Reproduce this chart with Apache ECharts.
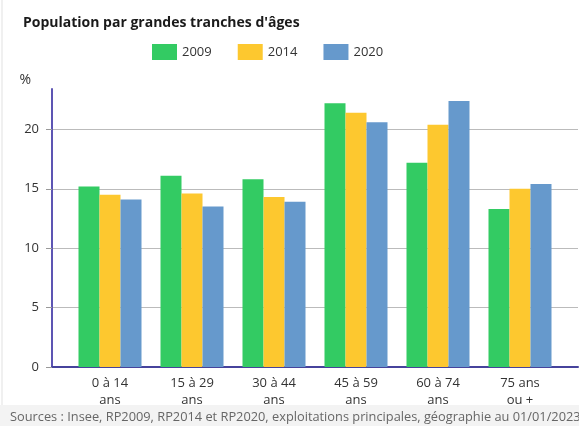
<!DOCTYPE html>
<html>
<head>
<meta charset="utf-8">
<script src="https://cdn.jsdelivr.net/npm/echarts@6/dist/echarts.min.js"></script>
<style>
  html, body { margin: 0; padding: 0; background: #fff; }
  #chart { width: 579px; height: 426px; }
</style>
</head>
<body>
<div id="chart"></div>
<script>
// tranches d'âges
const categories = ['0 à 14\nans', '15 à 29\nans', '30 à 44\nans', '45 à 59\nans', '60 à 74\nans', '75 ans\nou +'];
const years = ['2009', '2014', '2020'];
const values2009 = [15.2, 16.1, 15.8, 22.2, 17.2, 13.3];
const values2014 = [14.5, 14.6, 14.3, 21.4, 20.4, 15.0];
const values2020 = [14.1, 13.5, 13.9, 20.6, 22.4, 15.4];
const colors = ['#33cb63', '#fdc82f', '#6699cc'];

const font = '"Open Sans", "Noto Sans", sans-serif';
const yMax = 23.4;

const chart = echarts.init(document.getElementById('chart'), null, { renderer: 'canvas' });

const option = {
  animation: false,
  textStyle: { fontFamily: font },
  title: [
    {
      text: "Population par grandes tranches d'âges",
      left: 18, top: 11,
      textStyle: { fontSize: 14, fontWeight: 'bold', color: '#1a1a1a', fontFamily: font }
    },
    {
      text: 'Sources : Insee, RP2009, RP2014 et RP2020, exploitations principales, géographie au 01/01/2023.',
      left: 5, top: 406,
      textStyle: { fontSize: 12.8, fontWeight: 'normal', color: '#666', fontFamily: font }
    }
  ],
  graphic: [
    { type: 'rect', z: -10, shape: { x: 0, y: 405, width: 579, height: 21 }, style: { fill: '#f3f3f3' } },
    { type: 'rect', z: -10, shape: { x: 1, y: 0, width: 2, height: 405 }, style: { fill: '#f0f0f0' } }
  ],
  legend: {
    data: years,
    left: 147, top: 39,
    itemWidth: 25, itemHeight: 16, itemGap: 26, itemStyle: { borderWidth: 0 },
    textStyle: { fontSize: 13, color: '#333', fontFamily: font },
    icon: 'rect'
  },
  grid: [
    { left: 52, right: 1, top: 89, bottom: 59 },
    { left: 69, right: 18, top: 89, bottom: 59 }
  ],
  xAxis: [
    {
      gridIndex: 0, type: 'value', min: 0, max: 1,
      axisLine: { show: true, lineStyle: { color: '#46439c', width: 2 } },
      axisTick: { show: false }, axisLabel: { show: false }, splitLine: { show: false }
    },
    {
      gridIndex: 1, type: 'category', data: categories,
      axisLine: { show: false }, axisTick: { show: false },
      axisLabel: { color: '#333', fontSize: 13, lineHeight: 17, margin: 8, interval: 0, fontFamily: font }
    }
  ],
  yAxis: [
    {
      gridIndex: 0, type: 'value', min: 0, max: yMax, interval: 5,
      name: '%', nameLocation: 'end', nameGap: 2,
      nameTextStyle: { color: '#333', fontSize: 14, align: 'right', padding: [0, 21, 0, 0], fontFamily: font },
      axisLine: { show: true, lineStyle: { color: '#5d55b3', width: 2 } },
      axisTick: { show: true, length: 6, lineStyle: { color: '#999' } },
      axisLabel: { color: '#333', fontSize: 13, margin: 13, showMaxLabel: false, fontFamily: font },
      splitLine: { show: true, lineStyle: { color: ['#bbb', '#bbb', '#bbb', '#bbb', '#bbb', 'rgba(0,0,0,0)'], width: 1 } }
    },
    {
      gridIndex: 1, type: 'value', min: 0, max: yMax, show: false
    }
  ],
  series: [
    { name: years[0], type: 'bar', xAxisIndex: 1, yAxisIndex: 1, data: values2009, barWidth: 21, barGap: '0%', itemStyle: { color: colors[0] } },
    { name: years[1], type: 'bar', xAxisIndex: 1, yAxisIndex: 1, data: values2014, barWidth: 21, barGap: '0%', itemStyle: { color: colors[1] } },
    { name: years[2], type: 'bar', xAxisIndex: 1, yAxisIndex: 1, data: values2020, barWidth: 21, barGap: '0%', itemStyle: { color: colors[2] } }
  ]
};

chart.setOption(option);
</script>
</body>
</html>
